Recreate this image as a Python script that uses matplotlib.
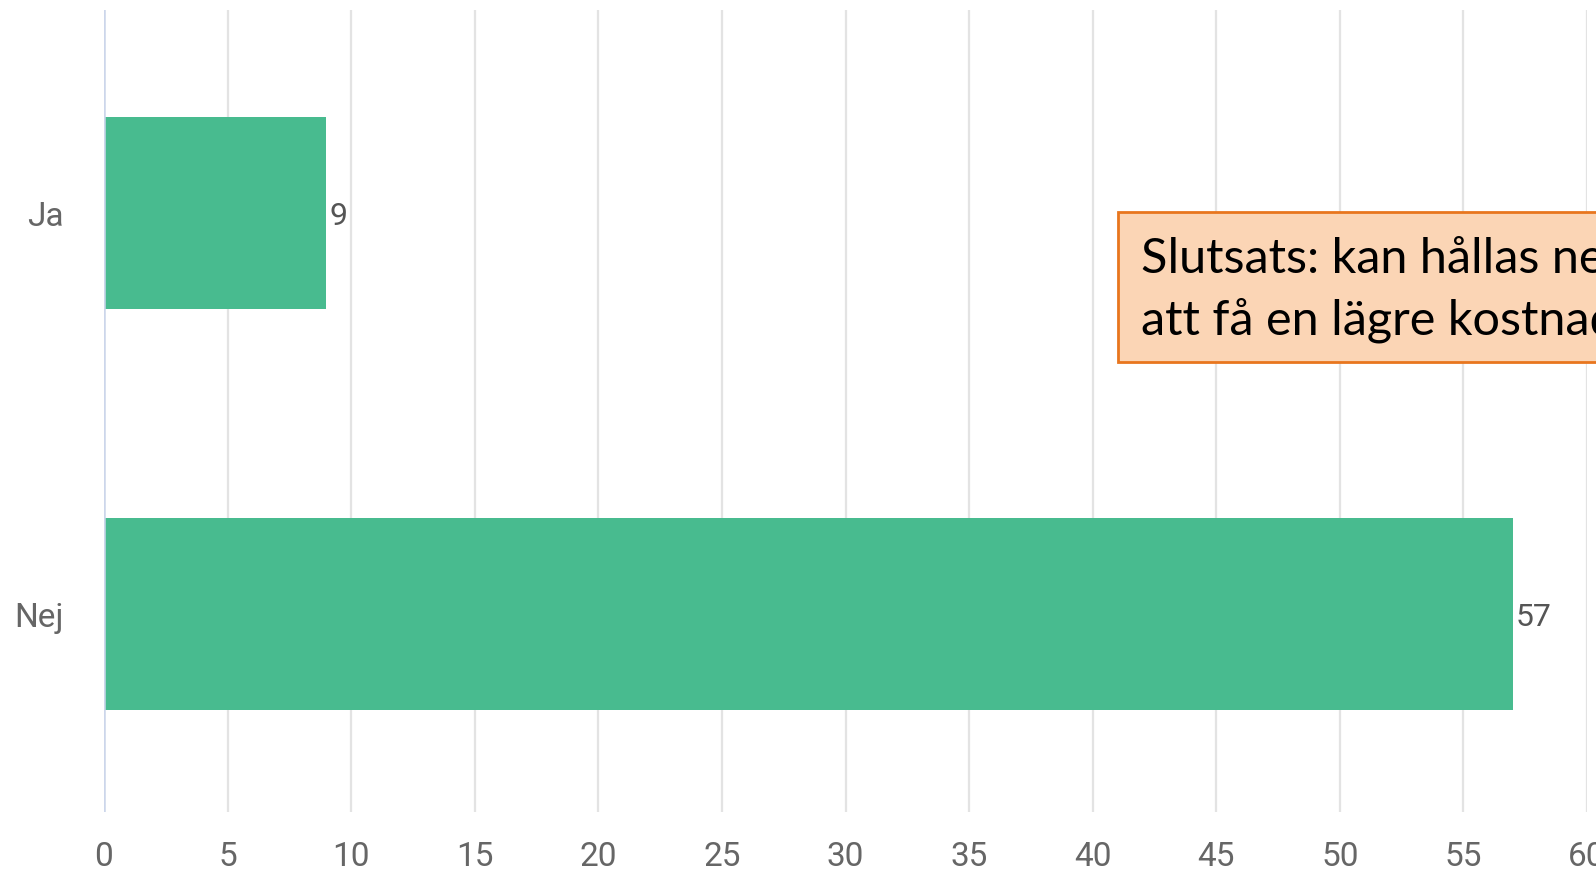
import matplotlib
matplotlib.use("Agg")
import matplotlib.pyplot as plt
from matplotlib.patches import Rectangle

categories = ["Ja", "Nej"]
values = [9, 57]
xticks = list(range(0, 61, 5))
note_text = "Slutsats: kan hållas nere för\natt få en lägre kostnad"

plt.rcParams['font.family'] = ['Roboto', 'DejaVu Sans']

W, H = 1596, 872
fig = plt.figure(figsize=(W / 100, H / 100), dpi=100)
left, right, top, bottom = 104, 1587, 10, 812
ax = fig.add_axes([left / W, 1 - bottom / H, (right - left) / W, (bottom - top) / H])

bar_color = "#48bb8f"
ypos = list(range(len(categories)))
bars = ax.barh(ypos, values, height=0.48, color=bar_color, zorder=3)

ax.set_xlim(0, 60)
ax.set_ylim(len(categories) - 0.5 - 0.0065, -0.5 - 0.0065)
ax.set_xticks(xticks)
ax.set_xticklabels([str(t) for t in xticks])
ax.set_yticks(ypos)
ax.set_yticklabels(categories)

for s in ax.spines.values():
    s.set_visible(False)
ax.grid(axis="x", color="#e3e3e3", linewidth=1.6, zorder=0)
ax.axvline(0, color="#ccd6eb", linewidth=1.8, zorder=4)
ax.tick_params(axis="both", length=0)
ax.tick_params(axis="x", pad=21, labelsize=24, labelcolor="#666666")
ax.tick_params(axis="y", pad=29, labelsize=24, labelcolor="#666666")

for b, v in zip(bars, values):
    ax.annotate(str(v), xy=(b.get_width(), b.get_y() + b.get_height() / 2),
                xytext=(2, 0), textcoords="offset points",
                ha="left", va="center_baseline", fontsize=23, color="#555555", zorder=5)

# annotation box (figure pixel coords)
bx0, by0, bx1, by1 = 1118, 212, 1640, 362
fig.patches.append(Rectangle((bx0 / W, 1 - by1 / H), (bx1 - bx0) / W, (by1 - by0) / H,
                             transform=fig.transFigure, facecolor="#fbd5b5",
                             edgecolor="#e8761e", linewidth=2, zorder=10))
fig.text(1141 / W, 1 - 290 / H, note_text, fontsize=35, family=["Lato", "DejaVu Sans"],
         color="black", ha="left", va="center", linespacing=1.42, zorder=11)

fig.savefig("out.png", dpi=100, facecolor="white")
